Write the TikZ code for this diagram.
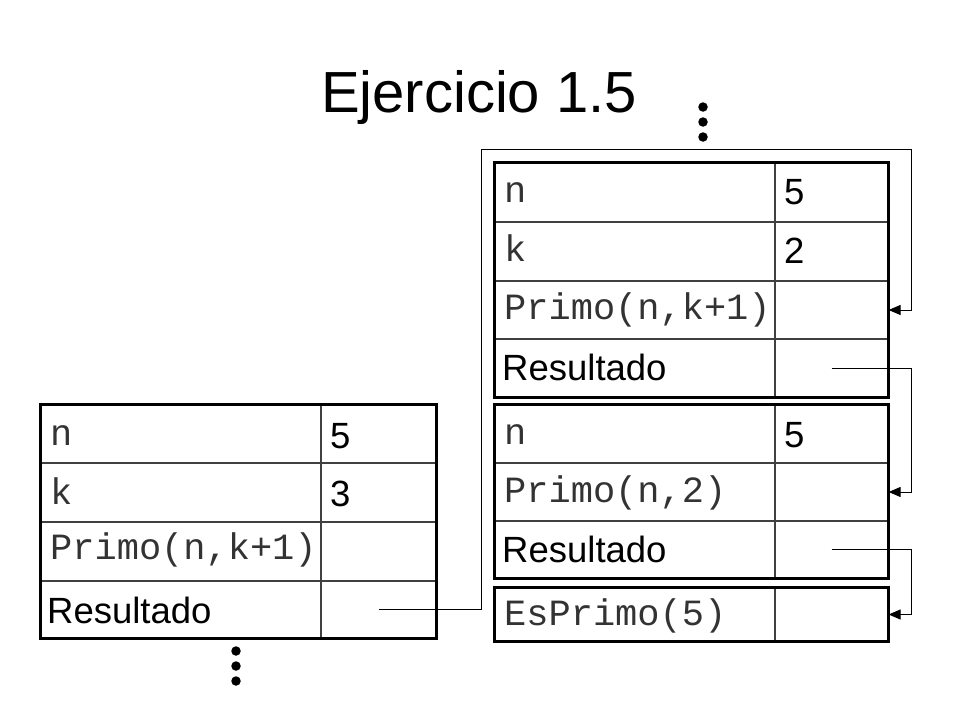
\documentclass[tikz,border=0pt]{standalone}
\usepackage{fontspec}
\setmainfont{Liberation Sans}
\newfontfamily\monofont{Liberation Mono}
\usetikzlibrary{arrows.meta}
\tikzset{
  cellbox/.style={draw=black!75, line width=1.2pt, inner sep=0pt, minimum height=#1},
  lcell/.style={cellbox=#1, minimum width=280pt},
  vcell/.style={cellbox=#1, minimum width=113pt},
  llcell/.style={cellbox=#1, minimum width=280pt},
  lvcell/.style={cellbox=#1, minimum width=115pt},
  outer/.style={draw=black, line width=3.2pt},
  sanslbl/.style={anchor=base west, inner sep=0pt, font=\fontsize{36.5}{40}\selectfont},
  monolbl/.style={anchor=base west, inner sep=0pt, text=black!80, font=\monofont\fontsize{37}{40}\selectfont},
  conn/.style={draw=black, line width=1pt},
  tip/.style={-{Triangle[length=12pt,width=10pt]}},
  dotmark/.style={circle, fill=black, inner sep=0pt, minimum size=9.5pt},
}
\begin{document}
\begin{tikzpicture}[x=1pt,y=-1pt]
\useasboundingbox[fill=white] (0,0) rectangle (960,720);

% title
\node[anchor=base, inner sep=0pt, font=\fontsize{58}{60}\selectfont] (title) at (479,112) {Ejercicio 1.5};

% ---------- top right table (T1): x 495..888, rows 163,222,281,339,397
\node[lcell=59pt] (t1a1) at (635,192.5) {};
\node[vcell=59pt] (t1v1) at (831.5,192.5) {};
\node[lcell=59pt] (t1a2) at (635,251.5) {};
\node[vcell=59pt] (t1v2) at (831.5,251.5) {};
\node[lcell=58pt] (t1a3) at (635,310) {};
\node[vcell=58pt] (t1v3) at (831.5,310) {};
\node[lcell=58pt] (t1a4) at (635,368) {};
\node[vcell=58pt] (t1v4) at (831.5,368) {};
\draw[outer] (t1a1.north west) rectangle (t1v4.south east);
\node[monolbl] (t1l1) at (504,202) {n};
\node[sanslbl] (t1n1) at (784,204) {5};
\node[monolbl] (t1l2) at (504,261) {k};
\node[sanslbl] (t1n2) at (784,263) {2};
\node[monolbl] (t1l3) at (504,319) {Primo(n,k+1)};
\node[sanslbl] (t1l4) at (502,380) {Resultado};

% ---------- middle right table (T2): x 495..888, rows 405,463,521,578
\node[lcell=58pt] (t2a1) at (635,434) {};
\node[vcell=58pt] (t2v1) at (831.5,434) {};
\node[lcell=58pt] (t2a2) at (635,492) {};
\node[vcell=58pt] (t2v2) at (831.5,492) {};
\node[lcell=57pt] (t2a3) at (635,549.5) {};
\node[vcell=57pt] (t2v3) at (831.5,549.5) {};
\draw[outer] (t2a1.north west) rectangle (t2v3.south east);
\node[monolbl] (t2l1) at (504,444) {n};
\node[sanslbl] (t2n1) at (784,447) {5};
\node[monolbl] (t2l2) at (504,502) {Primo(n,2)};
\node[sanslbl] (t2l3) at (502,562) {Resultado};

% ---------- bottom right box (T3): x 495..888, y 588..641
\node[lcell=53pt] (t3a1) at (635,614.5) {};
\node[vcell=53pt] (t3v1) at (831.5,614.5) {};
\draw[outer] (t3a1.north west) rectangle (t3v1.south east);
\node[monolbl] (t3l1) at (504,625) {EsPrimo(5)};

% ---------- left table (TL): x 41..436, rows 405,463,522,581,638
\node[llcell=58pt] (tla1) at (181,434) {};
\node[lvcell=58pt] (tlv1) at (378.5,434) {};
\node[llcell=59pt] (tla2) at (181,492.5) {};
\node[lvcell=59pt] (tlv2) at (378.5,492.5) {};
\node[llcell=59pt] (tla3) at (181,551.5) {};
\node[lvcell=59pt] (tlv3) at (378.5,551.5) {};
\node[llcell=57pt] (tla4) at (181,609.5) {};
\node[lvcell=57pt] (tlv4) at (378.5,609.5) {};
\draw[outer] (tla1.north west) rectangle (tlv4.south east);
\node[monolbl] (tll1) at (50,445) {n};
\node[sanslbl] (tln1) at (330,448) {5};
\node[monolbl] (tll2) at (50,504) {k};
\node[sanslbl] (tln2) at (330,506) {3};
\node[monolbl] (tll3) at (50,559) {Primo(n,k+1)};
\node[sanslbl] (tll4) at (47,623) {Resultado};

% ---------- dots
\node[dotmark] (d1) at (703,107) {};
\node[dotmark] (d2) at (703,122) {};
\node[dotmark] (d3) at (703,137) {};
\node[dotmark] (d4) at (236,651) {};
\node[dotmark] (d5) at (236,666) {};
\node[dotmark] (d6) at (236,681) {};

% ---------- connectors
\coordinate (railL) at (481,149);
\coordinate (railR) at (911,149);
\draw[conn,tip] (tlv4.center) -| (railL) -- (railR) |- (t1v3.east);
\draw[conn,tip] (t1v4.center) -| ([xshift=23pt]t2v2.east) -- (t2v2.east);
\draw[conn,tip] (t2v3.center) -| ([xshift=23pt]t3v1.east) -- (t3v1.east);
\end{tikzpicture}
\end{document}
